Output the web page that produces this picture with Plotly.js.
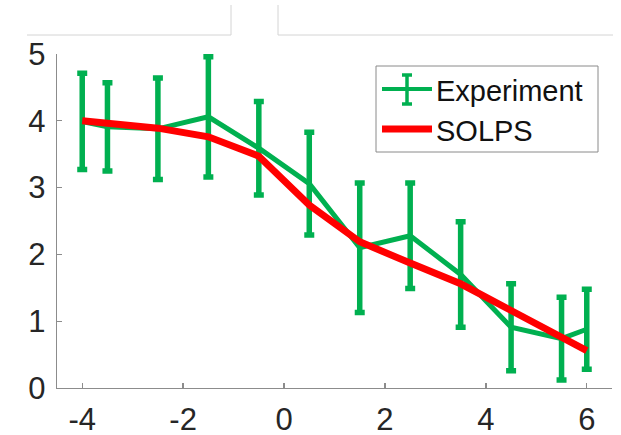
<!DOCTYPE html>
<html>
<head>
<meta charset="utf-8">
<script src="https://cdn.plot.ly/plotly-3.0.1.min.js"></script>
<style>
  html, body { margin: 0; padding: 0; background: #ffffff; }
  #plot { width: 621px; height: 435px; }
</style>
</head>
<body>
<div id="plot"></div>
<script>
// Radial positions shared by both profiles
const positions = [-4, -3.5, -2.5, -1.5, -0.5, 0.5, 1.5, 2.5, 3.5, 4.5, 5.5, 6];

// Measured profile and its uncertainty
const experiment = [3.99, 3.91, 3.88, 4.06, 3.59, 3.06, 2.10, 2.28, 1.70, 0.91, 0.74, 0.88];
const experimentErr = [0.72, 0.66, 0.76, 0.90, 0.70, 0.77, 0.97, 0.79, 0.79, 0.65, 0.62, 0.60];

// Simulated profile
const solps = [4.00, 3.96, 3.89, 3.76, 3.47, 2.74, 2.19, 1.87, 1.56, 1.16, 0.76, 0.56];

// Axis ticks
const xTicks = [-4, -2, 0, 2, 4, 6];
const yTicks = [0, 1, 2, 3, 4, 5];

const seriesNames = ['Experiment', 'SOLPS'];

const GREEN = '#00b050';
const RED = '#ff0000';
const AXIS = '#8c8c8c';
const FONT = 'Liberation Sans, Arial, sans-serif';

// Plot-area geometry (pixels) used to place the hand-built legend box
const W = 621, H = 435;
const M = { l: 57, r: 9, t: 54, b: 47 };
const plotW = W - M.l - M.r;
const plotH = H - M.t - M.b;
const px = v => (v - M.l) / plotW;
const py = v => (H - M.b - v) / plotH;

const traces = [
  {
    x: positions,
    y: experiment,
    name: seriesNames[0],
    type: 'scatter',
    mode: 'lines',
    line: { color: GREEN, width: 5 },
    error_y: {
      type: 'data',
      array: experimentErr,
      visible: true,
      color: GREEN,
      thickness: 5.5,
      width: 5
    },
    showlegend: false
  },
  {
    x: positions,
    y: solps,
    name: seriesNames[1],
    type: 'scatter',
    mode: 'lines',
    line: { color: RED, width: 7 },
    showlegend: false
  }
];

const thin = { color: '#d4d4d4', width: 1 };
const shapes = [
  // frame edges of the neighbouring panel above
  { type: 'line', xref: 'paper', yref: 'paper', x0: px(27), x1: px(231), y0: py(35), y1: py(35), line: thin },
  { type: 'line', xref: 'paper', yref: 'paper', x0: px(231), x1: px(231), y0: py(35), y1: py(5), line: thin },
  { type: 'line', xref: 'paper', yref: 'paper', x0: px(278), x1: px(278), y0: py(35), y1: py(5), line: thin },
  { type: 'line', xref: 'paper', yref: 'paper', x0: px(278), x1: px(613), y0: py(35), y1: py(35), line: thin },

  // legend box
  { type: 'rect', xref: 'paper', yref: 'paper', x0: px(376), x1: px(598), y0: py(152), y1: py(66),
    line: { color: '#8a8a8a', width: 1 }, fillcolor: '#ffffff' },
  // Experiment glyph: line with an error bar
  { type: 'line', xref: 'paper', yref: 'paper', x0: px(382), x1: px(432), y0: py(89), y1: py(89),
    line: { color: GREEN, width: 4 } },
  { type: 'line', xref: 'paper', yref: 'paper', x0: px(407), x1: px(407), y0: py(75), y1: py(104),
    line: { color: GREEN, width: 3.5 } },
  { type: 'line', xref: 'paper', yref: 'paper', x0: px(402), x1: px(412), y0: py(75), y1: py(75),
    line: { color: GREEN, width: 3.5 } },
  { type: 'line', xref: 'paper', yref: 'paper', x0: px(402), x1: px(412), y0: py(104), y1: py(104),
    line: { color: GREEN, width: 3.5 } },
  // SOLPS glyph
  { type: 'line', xref: 'paper', yref: 'paper', x0: px(382), x1: px(432), y0: py(129), y1: py(129),
    line: { color: RED, width: 7 } }
];

const annotations = [
  { xref: 'paper', yref: 'paper', x: px(434), y: py(91), xanchor: 'left', yanchor: 'middle',
    text: seriesNames[0], showarrow: false, font: { family: FONT, size: 29, color: '#111111' } },
  { xref: 'paper', yref: 'paper', x: px(434), y: py(131), xanchor: 'left', yanchor: 'middle',
    text: seriesNames[1], showarrow: false, font: { family: FONT, size: 29, color: '#111111' } }
];

const axisCommon = {
  showline: true,
  linecolor: AXIS,
  linewidth: 1.3,
  mirror: false,
  ticks: 'inside',
  ticklen: 5,
  tickwidth: 1.3,
  tickcolor: AXIS,
  showgrid: false,
  zeroline: false,
  tickfont: { family: FONT, size: 31, color: '#262626' }
};

const layout = {
  width: W,
  height: H,
  margin: M,
  paper_bgcolor: '#ffffff',
  plot_bgcolor: '#ffffff',
  showlegend: false,
  xaxis: Object.assign({}, axisCommon, {
    range: [-4.5, 6.5],
    tickmode: 'array',
    tickvals: xTicks,
    ticktext: xTicks.map(String),
    ticklabelstandoff: 3
  }),
  yaxis: Object.assign({}, axisCommon, {
    range: [0, 5],
    tickmode: 'array',
    tickvals: yTicks,
    ticktext: yTicks.map(String),
    ticklabelstandoff: 4
  }),
  shapes: shapes,
  annotations: annotations
};

Plotly.newPlot('plot', traces, layout, { displayModeBar: false, staticPlot: true });
</script>
</body>
</html>
